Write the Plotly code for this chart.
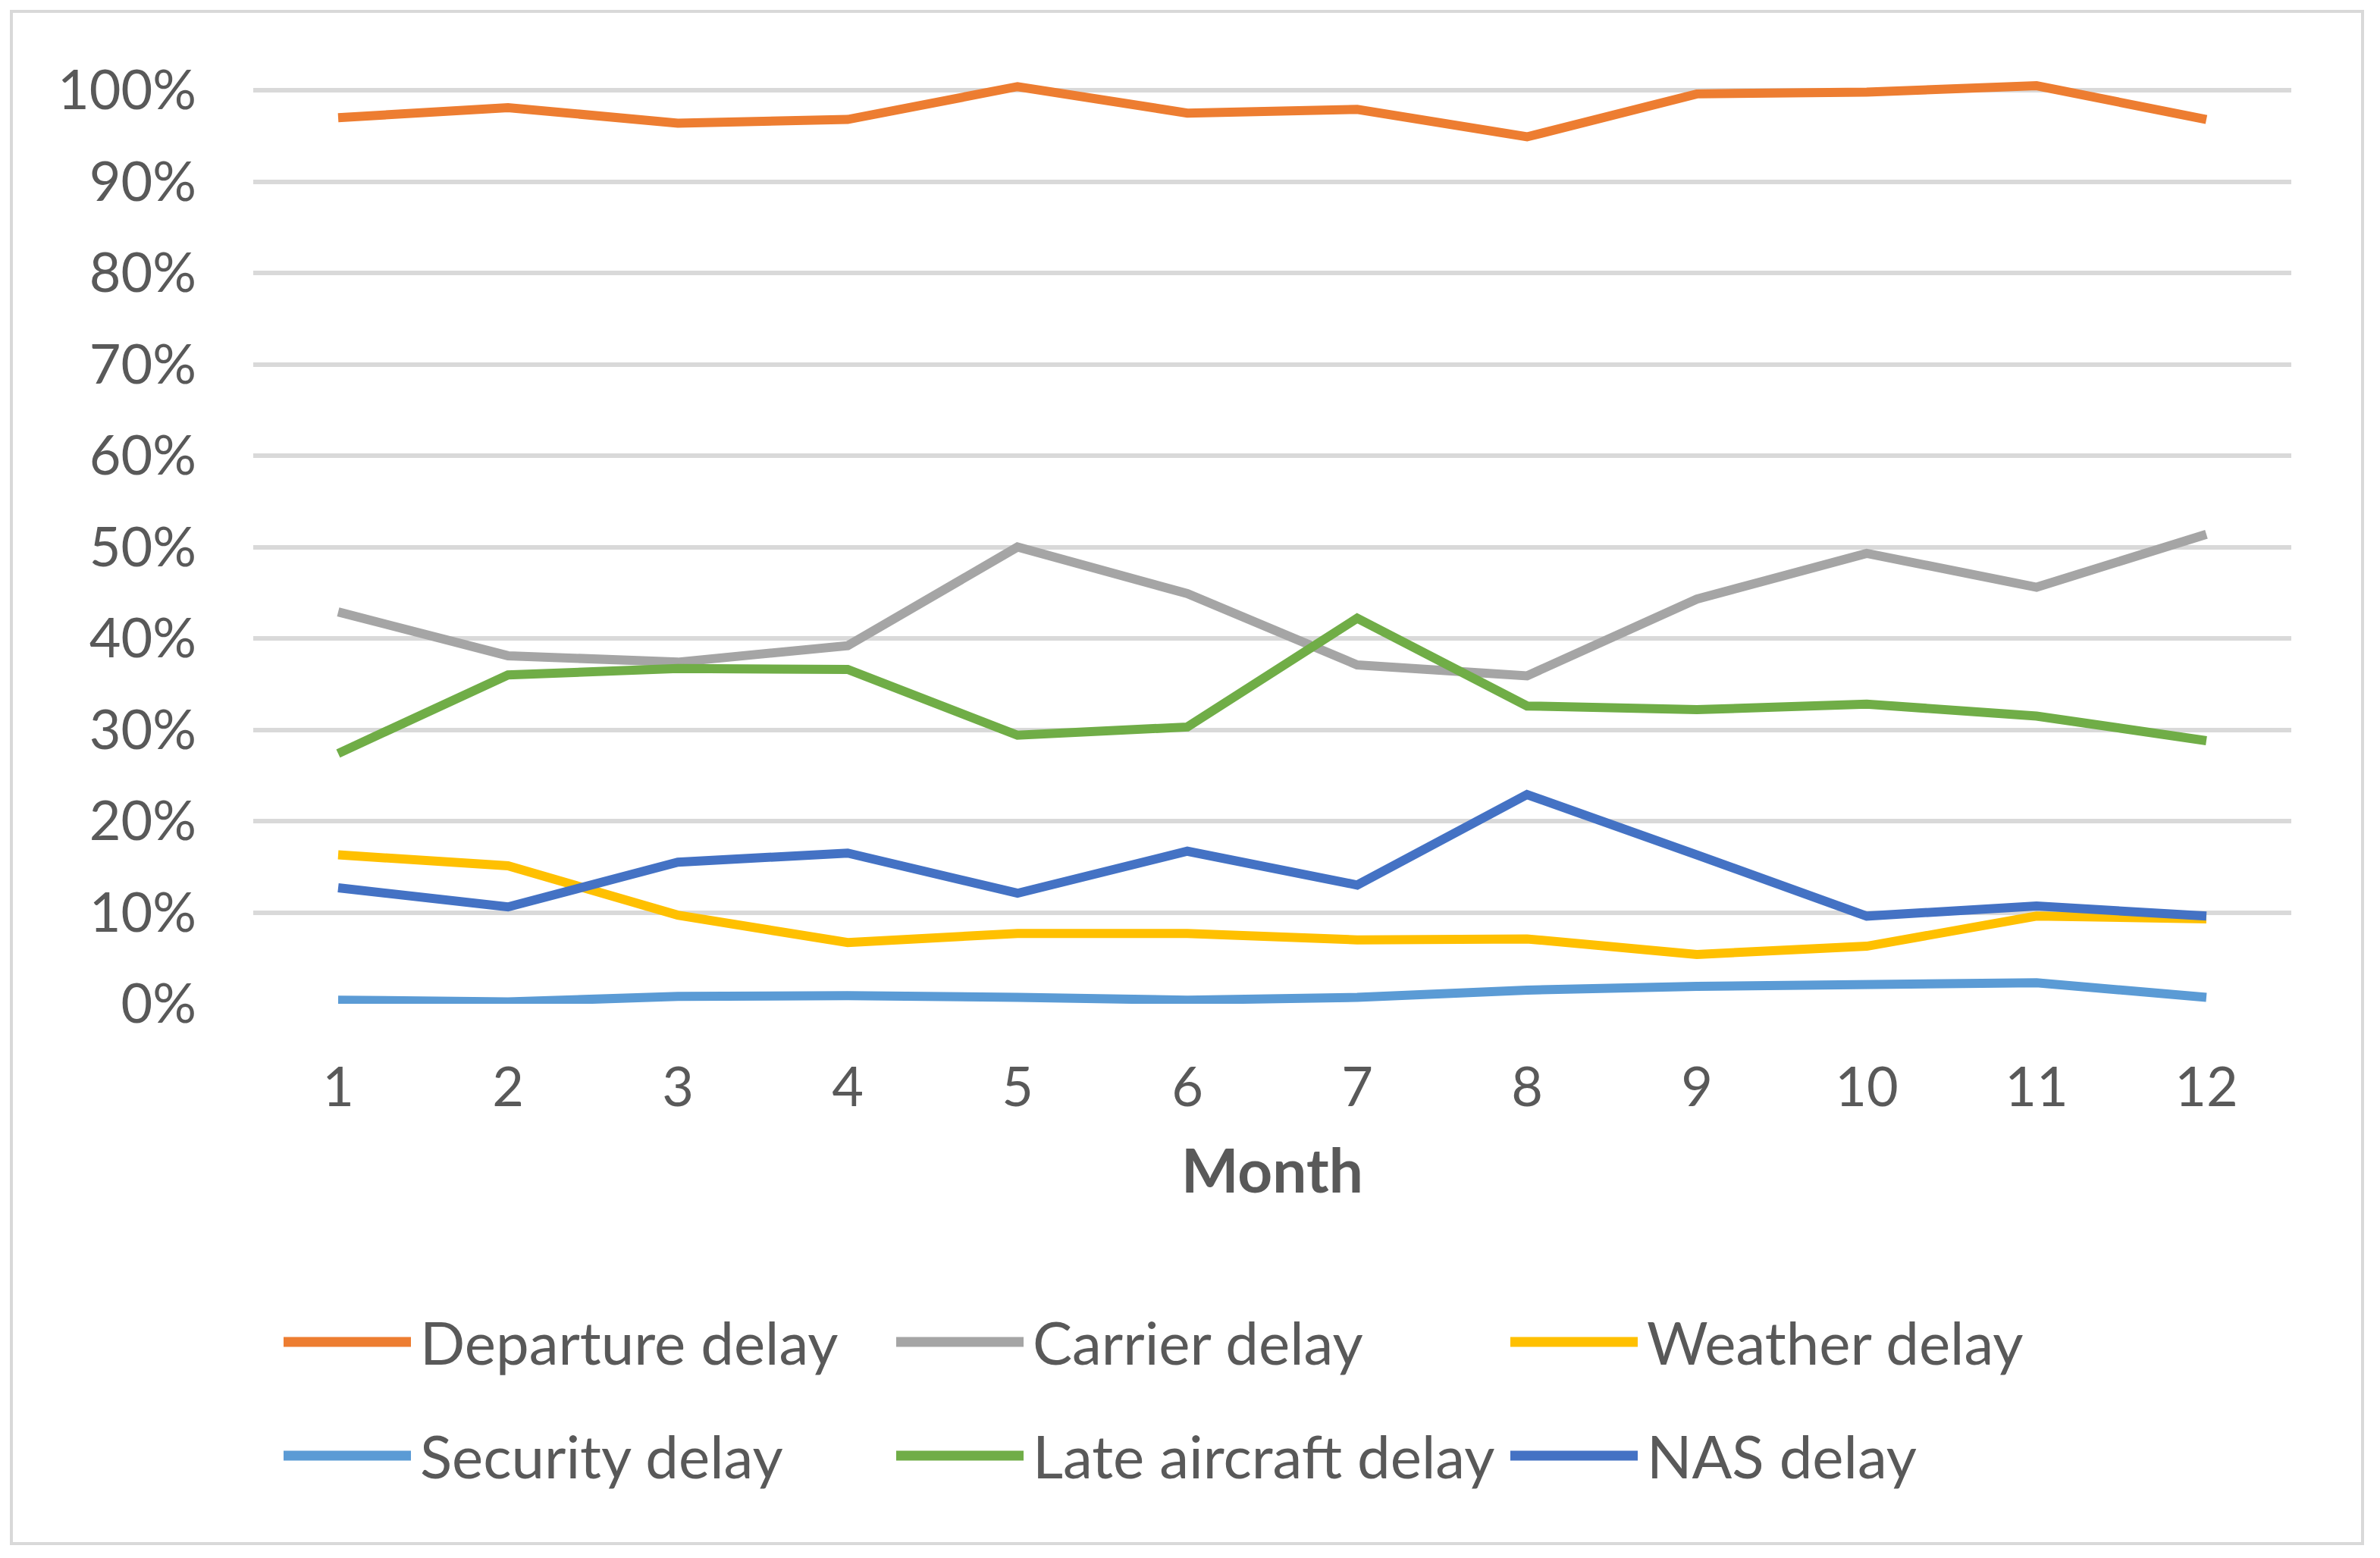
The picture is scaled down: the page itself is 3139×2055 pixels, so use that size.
import plotly.graph_objects as go

months = list(range(1, 12 + 1))
month_labels = [str(m) for m in months]

departure_delay = [0.970, 0.981, 0.964, 0.968, 1.004, 0.975, 0.979, 0.949, 0.996, 0.998, 1.005, 0.968]
carrier_delay = [0.429, 0.381, 0.374, 0.392, 0.500, 0.449, 0.371, 0.359, 0.443, 0.493, 0.456, 0.514]
weather_delay = [0.163, 0.151, 0.097, 0.067, 0.077, 0.077, 0.070, 0.071, 0.054, 0.063, 0.096, 0.093]
security_delay = [0.004, 0.002, 0.008, 0.009, 0.007, 0.004, 0.007, 0.015, 0.019, 0.022, 0.023, 0.007]
late_aircraft_delay = [0.274, 0.360, 0.367, 0.366, 0.294, 0.303, 0.422, 0.326, 0.322, 0.328, 0.315, 0.288]
nas_delay = [0.127, 0.106, 0.155, 0.165, 0.121, 0.167, 0.130, 0.229, 0.163, 0.096, 0.107, 0.096]

series_names = ["Departure delay", "Carrier delay", "Weather delay",
                "Security delay", "Late aircraft delay", "NAS delay"]
series_values = [departure_delay, carrier_delay, weather_delay,
                 security_delay, late_aircraft_delay, nas_delay]
series_colors = ["#ED7D31", "#A5A5A5", "#FFC000", "#5B9BD5", "#70AD47", "#4472C4"]

y_ticks = [i / 10 for i in range(11)]

# page / plot-area geometry (pixels, in page coords); the html body adds an 8px margin
OFF = 8
W, H = 3139 - 2 * OFF, 2055 - 2 * OFF
L, T = 334 - OFF, 107 - OFF
PW, PH = 2688, 1217
R, B = W - L - PW, H - T - PH
FONT = "Lato"
TEXT = "#595959"


def px(x, y):
    # pixel position on the page -> paper coordinates
    return (x - OFF - L) / PW, (T + PH - (y - OFF)) / PH


fig = go.Figure()
for name, vals, col in zip(series_names, series_values, series_colors):
    fig.add_trace(go.Scatter(x=months, y=vals, name=name, mode="lines",
                             line=dict(color=col, width=12),
                             showlegend=False))

shapes = []
annotations = []

# outer chart border
x0, y0 = px(15, 2036)
x1, y1 = px(3116, 15)
shapes.append(dict(type="rect", xref="paper", yref="paper", x0=x0, y0=y0, x1=x1, y1=y1,
                   line=dict(color="#D9D9D9", width=4), layer="below"))

# legend, 3 columns x 2 rows
col_x = [374, 1182, 1992]
row_y = [1770, 1920]
for i, (name, col) in enumerate(zip(series_names, series_colors)):
    cx = col_x[i % 3]
    cy = row_y[i // 3]
    sx0, sy = px(cx, cy)
    sx1, _ = px(cx + 168, cy)
    shapes.append(dict(type="line", xref="paper", yref="paper", x0=sx0, x1=sx1, y0=sy, y1=sy,
                       line=dict(color=col, width=13)))
    tx, _ = px(cx + 178, cy)
    annotations.append(dict(text=name, xref="paper", yref="paper", x=tx, y=sy,
                            xanchor="left", yanchor="middle", showarrow=False,
                            font=dict(family=FONT, size=78, color=TEXT)))

# axis title
mx, my = px(334 + PW / 2, 1542)
annotations.append(dict(text="<b>Month</b>", xref="paper", yref="paper", x=mx, y=my,
                        xanchor="center", yanchor="middle", showarrow=False,
                        font=dict(family=FONT, size=80, color=TEXT)))

fig.update_layout(
    width=W, height=H,
    margin=dict(l=L, r=R, t=T, b=B, autoexpand=False),
    paper_bgcolor="white", plot_bgcolor="white",
    font=dict(family=FONT, color=TEXT),
    shapes=shapes, annotations=annotations,
    xaxis=dict(range=[0.5, 12.5], tickvals=months, ticktext=month_labels,
               showgrid=False, zeroline=False, showline=False, ticks="",
               tickfont=dict(family=FONT, size=72, color=TEXT),
               ticklabelstandoff=62),
    yaxis=dict(range=[0, 1.01], tickvals=y_ticks, tickformat=".0%",
               showgrid=True, gridcolor="#D9D9D9", gridwidth=6,
               zeroline=False, showline=False, ticks="",
               tickfont=dict(family=FONT, size=72, color=TEXT),
               ticklabelstandoff=74),
)

fig.write_html("out.html")
